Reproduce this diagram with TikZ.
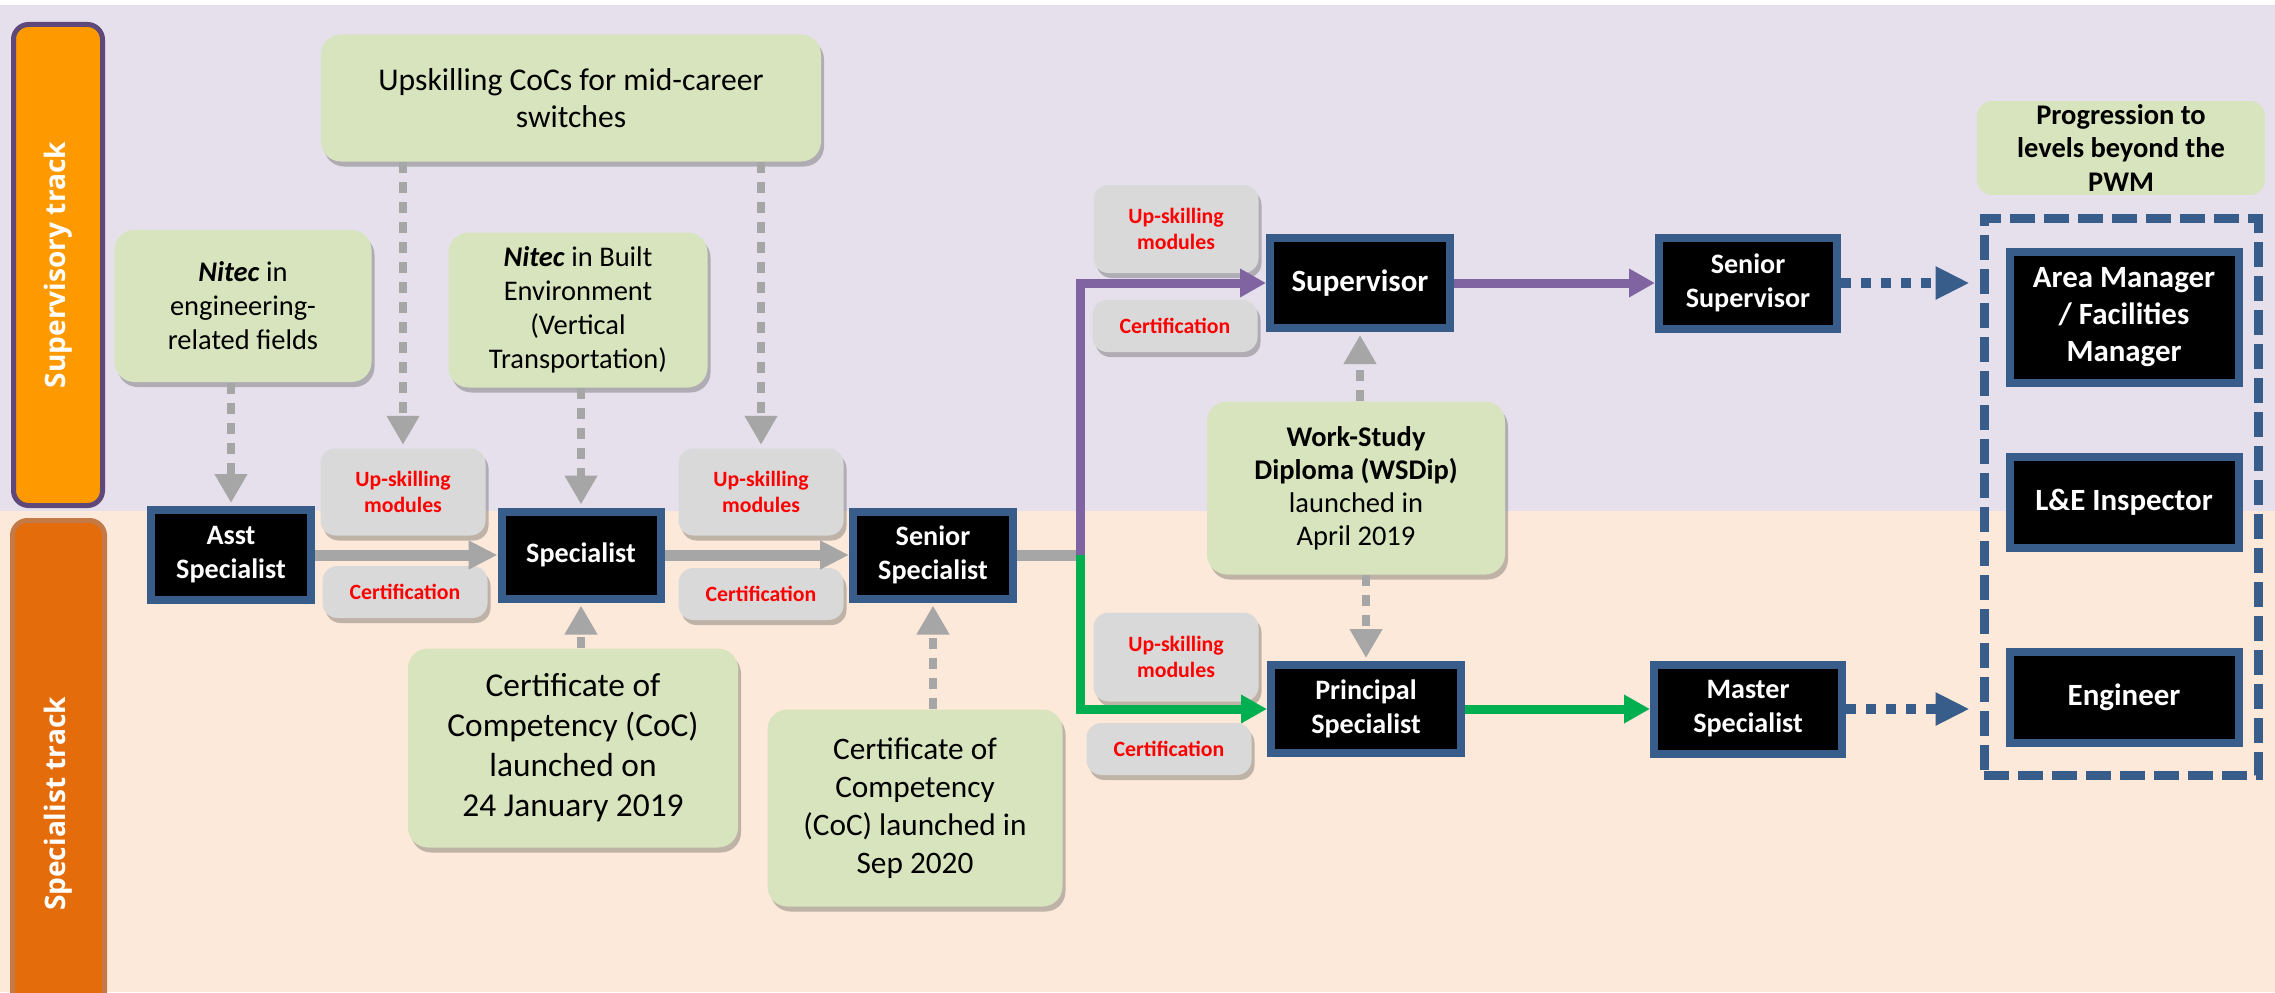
\documentclass[tikz,border=0pt]{standalone}
\usepackage{fontspec}
\setmainfont{Carlito}
\newfontfamily\lanefont{Open Sans}
\usetikzlibrary{shapes,arrows.meta,shadows}
\definecolor{lavender}{HTML}{E5E0EC}
\definecolor{peach}{HTML}{FDE9D9}
\definecolor{leaf}{HTML}{D7E4BD}
\definecolor{pale}{HTML}{D9D9D9}
\definecolor{navy}{HTML}{385D8A}
\definecolor{grape}{HTML}{8064A2}
\definecolor{grass}{HTML}{00B050}
\definecolor{ash}{HTML}{A6A6A6}
\definecolor{amber}{HTML}{FF9900}
\definecolor{rust}{HTML}{E46C0A}
\definecolor{plum}{HTML}{5F497A}
\definecolor{clay}{HTML}{C47A46}
\tikzstyle{role} = [draw=navy, fill=black, line width=0.08cm, text=white, align=center, inner sep=1pt, font=\bfseries\fontsize{8pt}{9.7pt}\selectfont]
\tikzstyle{bigrole} = [role, font=\bfseries\fontsize{8.8pt}{10.5pt}\selectfont]
\tikzstyle{route} = [fill=leaf, rounded corners=0.2cm, align=center, inner sep=1pt, drop shadow={shadow xshift=0.03cm, shadow yshift=-0.05cm, opacity=0.35, fill=black!70}]
\tikzstyle{extra} = [fill=pale, rounded corners=0.15cm, text=red, align=center, inner sep=1pt, minimum width=1.65cm, font=\bfseries\fontsize{6.2pt}{7.4pt}\selectfont, drop shadow={shadow xshift=0.03cm, shadow yshift=-0.05cm, opacity=0.35, fill=black!70}]
\tikzstyle{lane} = [rounded corners=0.15cm, line width=0.05cm, text=white, rotate=90, font=\lanefont\bfseries\fontsize{8pt}{9pt}\selectfont]
\tikzstyle{tmp} = [coordinate]
\tikzstyle{feed} = [draw=ash, line width=0.08cm, dash pattern=on 0.11cm off 0.09cm, -{Triangle[width=0.31cm,length=0.29cm]}, shorten >=0.03cm]
\tikzstyle{flow} = [draw=ash, line width=0.11cm]
\tikzstyle{track} = [line width=0.09cm, -{Triangle[width=0.27cm,length=0.26cm]}]
\tikzstyle{hop} = [draw=navy, line width=0.1cm, dash pattern=on 0.1cm off 0.1cm, -{Triangle[width=0.31cm,length=0.34cm]}, shorten >=0.1cm]
\begin{document}
\begin{tikzpicture}[auto, node distance=3.5cm]
            \useasboundingbox (0,0) rectangle (22.75,9.92);
            % two bands
            \fill [lavender] (0,4.81) rectangle (22.75,9.87);
            \fill [peach] (0,0) rectangle (22.75,4.81);
            \node [lane, draw=plum, fill=amber, minimum width=4.81cm, minimum height=0.89cm] (suptrack) at (0.58,7.27) {Supervisory track};
            \node [lane, draw=clay, fill=rust, minimum width=5.67cm, minimum height=0.92cm] (spectrack) at (0.585,1.88) {Specialist track};

            % job levels
            \node [role, minimum width=1.6cm, minimum height=0.9cm] (asst) at (2.31,4.37) {Asst\\Specialist};
            \node [role, right of=asst, node distance=3.5cm, minimum width=1.59cm, minimum height=0.87cm] (spec) {Specialist};
            \node [role, right of=spec, node distance=3.52cm, minimum width=1.6cm, minimum height=0.87cm] (senspec) {Senior\\Specialist};
            \node [tmp, right of=senspec, node distance=1.47cm] (split) {};
            \node [bigrole, minimum width=1.8cm, minimum height=0.9cm] (sup) at (13.6,7.09) {Supervisor};
            \node [role, right of=sup, node distance=3.88cm, minimum width=1.78cm, minimum height=0.91cm] (sensup) {Senior\\Supervisor};
            \node [role, minimum width=1.9cm, minimum height=0.88cm] (princ) at (13.66,2.83) {Principal\\Specialist};
            \node [role, right of=princ, node distance=3.82cm, minimum width=1.88cm, minimum height=0.89cm] (master) {Master\\Specialist};
            \node [bigrole, minimum width=2.29cm, minimum height=1.31cm] (area) at (21.24,6.75) {Area Manager\\/ Facilities\\Manager};
            \node [bigrole, below of=area, node distance=1.85cm, minimum width=2.29cm, minimum height=0.91cm] (insp) {L\&E Inspector};
            \node [bigrole, below of=insp, node distance=1.95cm, minimum width=2.29cm, minimum height=0.91cm] (eng) {Engineer};
            \node [draw=navy, line width=0.09cm, dash pattern=on 0.25cm off 0.09cm, minimum width=2.74cm, minimum height=5.57cm] (frame) at (21.21,4.955) {};
            \node [fill=leaf, rounded corners=0.15cm, align=center, inner sep=1pt, minimum width=2.88cm, minimum height=0.9cm, font=\bfseries\fontsize{8.1pt}{9.5pt}\selectfont] (beyond) at (21.21,8.44) {Progression to\\levels beyond the\\PWM};

            % routes in
            \node [route, minimum width=5cm, minimum height=1.27cm, font=\fontsize{9pt}{10.6pt}\selectfont] (upcoc) at (5.71,8.94) {Upskilling CoCs for mid-career\\switches};
            \node [route, minimum width=2.57cm, minimum height=1.52cm, font=\fontsize{8.1pt}{9.7pt}\selectfont] (nitecA) at (2.43,6.86) {\textbf{\textit{Nitec}} in\\engineering-\\related fields};
            \node [route, minimum width=2.59cm, minimum height=1.55cm, font=\fontsize{8.1pt}{9.7pt}\selectfont] (nitecB) at (5.78,6.82) {\textbf{\textit{Nitec}} in Built\\Environment\\(Vertical\\Transportation)};
            \node [route, minimum width=3.3cm, minimum height=1.99cm, font=\fontsize{9.5pt}{11.4pt}\selectfont] (coc19) at (5.73,2.44) {Certificate of\\Competency (CoC)\\launched on\\24 January 2019};
            \node [route, minimum width=2.95cm, minimum height=1.97cm, font=\fontsize{8.9pt}{10.8pt}\selectfont] (coc20) at (9.15,1.84) {Certificate of\\Competency\\(CoC) launched in\\Sep 2020};
            \node [route, minimum width=2.98cm, minimum height=1.73cm, font=\fontsize{8.1pt}{9.4pt}\selectfont] (wsdip) at (13.56,5.04) {\textbf{Work-Study}\\\textbf{Diploma (WSDip)}\\launched in\\April 2019};

            % modules and certification
            \node [extra, minimum height=0.87cm] (up1) at (4.03,5) {Up-skilling\\modules};
            \node [extra, minimum height=0.52cm] (cert1) at (4.05,4) {Certification};
            \node [extra, minimum height=0.87cm] (up2) at (7.61,5) {Up-skilling\\modules};
            \node [extra, minimum height=0.52cm] (cert2) at (7.61,3.98) {Certification};
            \node [extra, minimum height=0.88cm] (up3) at (11.76,7.63) {Up-skilling\\modules};
            \node [extra, minimum height=0.52cm] (cert3) at (11.75,6.66) {Certification};
            \node [extra, minimum height=0.89cm] (up4) at (11.76,3.35) {Up-skilling\\modules};
            \node [extra, minimum height=0.52cm] (cert4) at (11.69,2.43) {Certification};

            \draw [feed] (upcoc.south -| up1.north) -- (up1.north);
            \draw [feed] (upcoc.south -| up2.north) -- (up2.north);
            \draw [feed] (nitecA.south -| asst.north) -- (asst.north);
            \draw [feed] (nitecB.south -| spec.north) -- (spec.north);
            \draw [feed] (coc19.north -| spec.south) -- (spec.south);
            \draw [feed] (coc20.north -| senspec.south) -- (senspec.south);
            \draw [feed] (wsdip.north -| sup.south) -- (sup.south);
            \draw [feed] (wsdip.south -| princ.north) -- (princ.north);

            \draw [flow, -{Triangle[width=0.27cm,length=0.29cm]}] (asst) -- (spec);
            \draw [flow, -{Triangle[width=0.27cm,length=0.29cm]}] (spec) -- (senspec);
            \draw [flow] (senspec) -- (split);
            \draw [track, grape] (split) |- (sup);
            \draw [track, grass] (split) |- (princ);
            \draw [track, grape] (sup) -- (sensup);
            \draw [track, grass] (princ) -- (master);
            \draw [hop] (sensup) -- (sensup -| frame.west);
            \draw [hop] (master) -- (master -| frame.west);
        \end{tikzpicture}
\end{document}
